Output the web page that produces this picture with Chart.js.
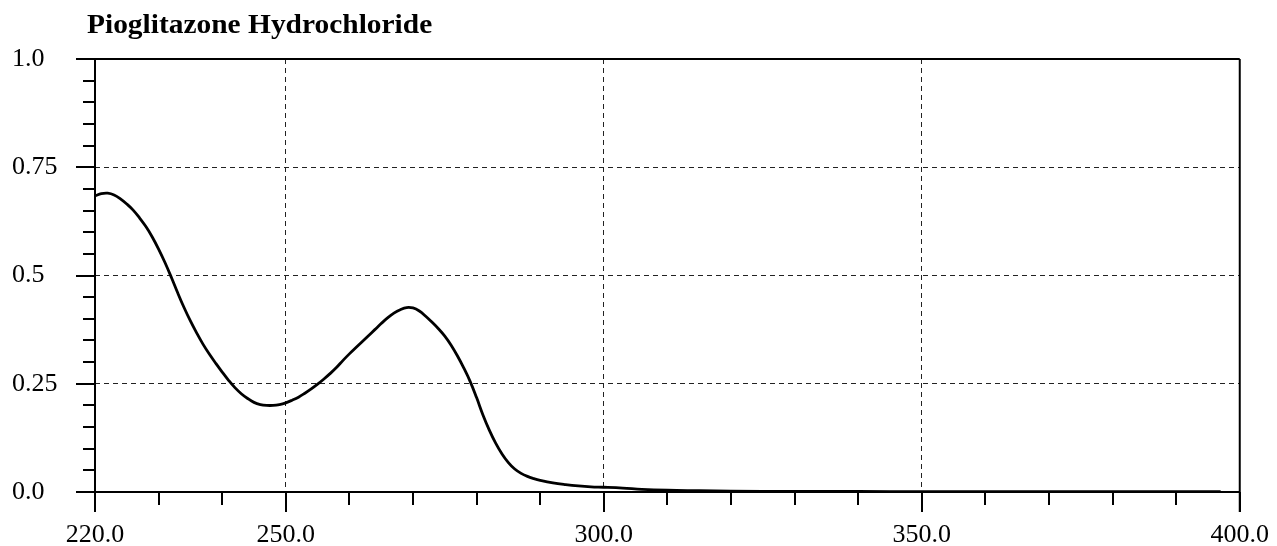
<!DOCTYPE html>
<html>
<head>
<meta charset="utf-8">
<script src="https://cdn.jsdelivr.net/npm/chart.js@4"></script>
<style>
  body { margin: 0; background: #fff; }
  #wrap { position: relative; width: 1277px; height: 546px; }
  #title {
    position: absolute; left: 87px; top: 9px; margin: 0; line-height: 1;
    font: bold 27px "Liberation Serif", "Times New Roman", serif; color: #000;
    white-space: nowrap; transform: scaleX(1.09); transform-origin: 0 0;
  }
</style>
</head>
<body>
<div id="wrap">
  <h1 id="title">Pioglitazone Hydrochloride</h1>
  <canvas id="spectrum"></canvas>
</div>
<script>
// wavelength (nm) and absorbance
const wavelengths = [220,221,222,223,224,225,226,227,228,229,230,231,232,233,234,235,236,237,238,239,
  240,241,242,243,244,245,246,247,248,249,250,251,252,253,254,255,256,257,258,259,
  260,261,262,263,264,265,266,267,268,269,270,271,272,273,274,275,276,277,278,279,
  280,281,282,283,284,285,286,287,288,289,290,292,294,296,298,300,303,306,310,315,
  320,330,340,350,360,370,380,390,397];
const absorbance = [0.684,0.689,0.690,0.686,0.677,0.665,0.651,0.633,0.613,0.589,0.561,0.530,0.496,0.460,0.426,0.395,0.367,0.341,0.318,0.297,
  0.277,0.258,0.241,0.227,0.216,0.207,0.202,0.200,0.200,0.202,0.206,0.212,0.219,0.228,0.238,0.249,0.261,0.274,0.288,0.304,
  0.319,0.333,0.347,0.361,0.375,0.389,0.402,0.413,0.421,0.426,0.425,0.418,0.406,0.392,0.377,0.360,0.339,0.314,0.286,0.255,
  0.218,0.178,0.143,0.113,0.088,0.068,0.053,0.043,0.036,0.031,0.027,0.021,0.017,0.014,0.012,0.011,0.009,0.006,0.004,0.003,
  0.002,0.0015,0.0012,0.001,0.001,0.0008,0.0008,0.0008,0.0008];

const xLabels = [220, 250, 300, 350, 400];
const yLabels = [0, 0.25, 0.5, 0.75, 1];
const xMinor = [220,230,240,250,260,270,280,290,300,310,320,330,340,350,360,370,380,390,400];
const yMinor = [0,0.05,0.1,0.15,0.2,0.25,0.3,0.35,0.4,0.45,0.5,0.55,0.6,0.65,0.7,0.75,0.8,0.85,0.9,0.95,1];

const points = wavelengths.map((w, i) => ({ x: w, y: absorbance[i] }));

// frame + tick marks, placed from the scales
const framePlugin = {
  id: "frame",
  afterDraw(chart) {
    const ctx = chart.ctx;
    const xs = chart.scales.x, ys = chart.scales.y;
    const a = chart.chartArea;
    ctx.save();
    ctx.strokeStyle = "#000";
    ctx.lineWidth = 2;
    ctx.beginPath();
    // top & bottom lines (start out at the major tick length)
    ctx.moveTo(a.left - 19, a.top); ctx.lineTo(a.right, a.top);
    ctx.moveTo(a.left - 19, a.bottom); ctx.lineTo(a.right, a.bottom);
    // left & right
    ctx.moveTo(a.left, a.top); ctx.lineTo(a.left, a.bottom + 20);
    ctx.moveTo(a.right, a.top); ctx.lineTo(a.right, a.bottom + 20);
    yMinor.forEach(v => {
      const py = Math.round(ys.getPixelForValue(v));
      const len = yLabels.some(m => Math.abs(m - v) < 1e-9) ? 19 : 12;
      ctx.moveTo(a.left - len, py); ctx.lineTo(a.left, py);
    });
    xMinor.forEach(v => {
      const px = Math.round(xs.getPixelForValue(v));
      const len = xLabels.includes(v) ? 20 : 13;
      ctx.moveTo(px, a.bottom); ctx.lineTo(px, a.bottom + len);
    });
    ctx.stroke();
    ctx.restore();
  }
};

const tickFont = { family: "'Liberation Serif', 'Times New Roman', serif", size: 26 };

new Chart(document.getElementById("spectrum"), {
  type: "line",
  data: {
    datasets: [{
      data: points,
      borderColor: "#000",
      borderWidth: 2.8,
      pointRadius: 0,
      fill: false,
      tension: 0.4
    }]
  },
  options: {
    responsive: true,
    maintainAspectRatio: false,
    animation: false,
    layout: { padding: { top: 59, right: 37, left: 12, bottom: 0 } },
    plugins: { legend: { display: false }, tooltip: { enabled: false }, title: { display: false } },
    scales: {
      x: {
        type: "linear", min: 220, max: 400,
        afterBuildTicks: s => { s.ticks = xLabels.map(v => ({ value: v })); },
        afterFit: s => { s.height = 54; },
        ticks: { color: "#000", font: tickFont, padding: 8, maxRotation: 0,
          callback: v => v.toFixed(1) },
        grid: {
          color: c => (c.tick && (c.tick.value === 220 || c.tick.value === 400)) ? "transparent" : "#222",
          lineWidth: 1, tickLength: 20, tickColor: "transparent"
        },
        border: { display: false, dash: [5, 4] }
      },
      y: {
        min: 0, max: 1,
        afterBuildTicks: s => { s.ticks = yLabels.map(v => ({ value: v })); },
        afterFit: s => { s.width = 83; },
        ticks: { color: "#000", font: tickFont, padding: 18, crossAlign: "far",
          callback: v => (v === 0 || v === 1) ? v.toFixed(1) : String(v) },
        grid: {
          color: c => (c.tick && (c.tick.value === 0 || c.tick.value === 1)) ? "transparent" : "#222",
          lineWidth: 1, tickLength: 19, tickColor: "transparent"
        },
        border: { display: false, dash: [5, 4] }
      }
    }
  },
  plugins: [framePlugin]
});
</script>
</body>
</html>
